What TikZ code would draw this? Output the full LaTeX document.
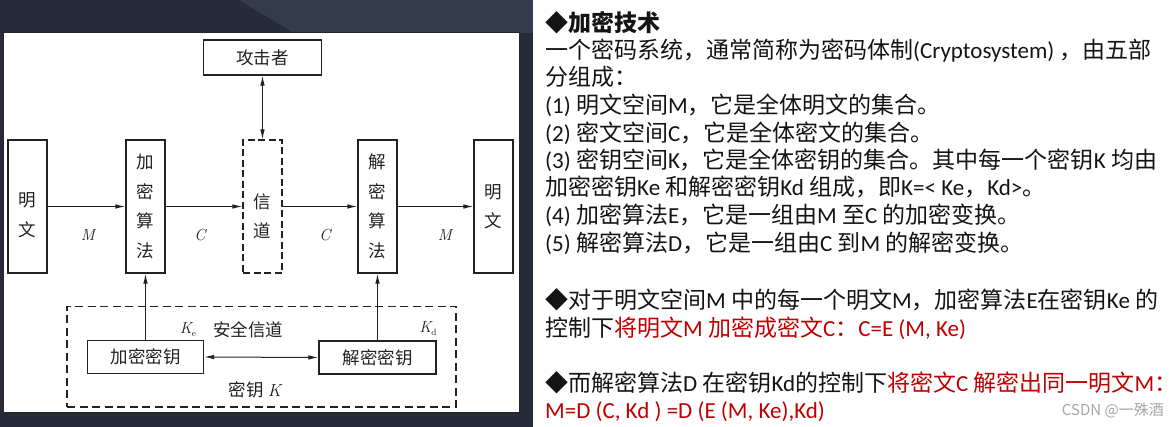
\documentclass[tikz,border=0pt]{standalone}
\usepackage{fontspec}
\setmainfont{Noto Sans CJK SC}
\newfontfamily\latf{Carlito}
\newfontfamily\lmr{Latin Modern Roman}
\newcommand\la[1]{{\latf #1}}
\newcommand\itl[1]{{\lmr\itshape #1}}
\usetikzlibrary{arrows.meta}
\definecolor{panel}{HTML}{262B37}
\definecolor{panelhi}{HTML}{343B4C}
\definecolor{txt}{HTML}{141414}
\definecolor{redtxt}{HTML}{C00000}
\definecolor{wmgray}{HTML}{A6A6A6}
\definecolor{ink}{HTML}{222222}
\begin{document}
\begin{tikzpicture}[x=1pt,y=-1pt,
  dfont/.style={font=\fontsize{17.5}{29.5}\selectfont},
  box/.style={draw=ink,line width=1.2pt,inner sep=0pt,fill=white,dfont,align=center,text=ink},
  vbox/.style={box,minimum width=39pt,minimum height=133pt},
  kbox/.style={box,minimum width=116pt,minimum height=33pt},
  dtext/.style={inner sep=0pt,dfont,align=center,text=ink},
  lbl/.style={inner sep=0pt,font=\fontsize{16}{16}\selectfont,text=ink},
  arr/.style={draw=ink,line width=1pt,-{Latex[length=10pt,width=4.5pt]}},
  darr/.style={draw=ink,line width=1pt,{Latex[length=10pt,width=4.5pt]}-{Latex[length=10pt,width=4.5pt]}},
  rt/.style={anchor=base west,inner sep=0pt,font=\fontsize{23}{27}\selectfont,text=txt},
]
\useasboundingbox (0,0) rectangle (1176,427);
% backgrounds
\fill[panel] (0,0) rectangle (533,427);
\fill[panelhi] (239,0) -- (533,0) -- (533,33) -- (294,33) -- cycle;
\fill[white] (533,0) rectangle (1176,427);
\draw[fill=white,draw=black!85,line width=1pt] (3,33) rectangle (519,413);

% diagram
\node[box,minimum width=118pt,minimum height=35pt] (att) at (262.5,57.5) {攻击者};
\node[vbox] (pl) at (27.5,206.5) {};
\node[dtext] (plt) at (27.5,215) {明\\文};
\node[vbox] (enc) at (145.5,206.5) {加\\密\\算\\法};
\node[vbox,dash pattern=on 7pt off 3.5pt] (chan) at (262.5,206.5) {};
\node[dtext] (chant) at (262.5,216) {信\\道};
\node[vbox] (dec) at (377.5,206.5) {解\\密\\算\\法};
\node[vbox] (pr) at (493.5,206.5) {明\\文};

\draw[arr] (pl.east) -- (enc.west);
\draw[arr] (enc.east) -- (chan.west);
\draw[arr] (chan.east) -- (dec.west);
\draw[arr] (dec.east) -- (pr.west);
\draw[darr] (att.south) -- (chan.north);

\node[lbl] (m1) at (88,235) {\itl{M}};
\node[lbl] (c1) at (200,235) {\itl{C}};
\node[lbl] (c2) at (325,235) {\itl{C}};
\node[lbl] (m2) at (445,235) {\itl{M}};

\node[draw=ink,line width=1.2pt,dash pattern=on 8pt off 4.5pt,minimum width=389pt,minimum height=100.5pt,inner sep=0pt] (kz) at (261.5,356.75) {};
\node[kbox] (ke) at (145.5,357) {加密密钥};
\node[kbox,minimum width=117pt] (kd) at (377.5,357.5) {解密密钥};
\draw[arr] (ke.north) -- (enc.south);
\draw[arr] (kd.north) -- (dec.south);
\draw[darr] (ke.east) -- (kd.west);

\node[lbl] (kel) at (188,330) {\itl{K}\raisebox{-3pt}{\fontsize{9}{9}\selectfont\lmr e}};
\node[dtext] (sec) at (248,330) {安全信道};
\node[lbl] (kdl) at (428,329) {\itl{K}\raisebox{-3pt}{\fontsize{9}{9}\selectfont\lmr d}};
\node[dtext] (kk) at (255,390) {密钥 \itl{K}};

% right text
\node[rt] (h) at (545,32) {\bfseries ◆加密技术};
\node[rt] (l1) at (545,59) {一个密码系统，通常简称为密码体制\la{(Cryptosystem) }，由五部};
\node[rt] (l2) at (545,86) {分组成：};
\node[rt] (l3) at (545,114) {\la{(1) }明文空间\la{M}，它是全体明文的集合。};
\node[rt] (l4) at (545,142) {\la{(2) }密文空间\la{C}，它是全体密文的集合。};
\node[rt] (l5) at (545,169) {\la{(3) }密钥空间\la{K}，它是全体密钥的集合。其中每一个密钥\la{K }均由};
\node[rt] (l6) at (545,196) {加密密钥\la{Ke }和解密密钥\la{Kd }组成，即\la{K=< Ke}，\la{Kd>}。};
\node[rt] (l7) at (545,224) {\la{(4) }加密算法\la{E}，它是一组由\la{M }至\la{C }的加密变换。};
\node[rt] (l8) at (545,252) {\la{(5) }解密算法\la{D}，它是一组由\la{C }到\la{M }的解密变换。};
\node[rt] (l9) at (545,309) {◆对于明文空间\la{M }中的每一个明文\la{M}，加密算法\la{E}在密钥\la{Ke }的};
\node[rt] (l10) at (545,337) {控制下\textcolor{redtxt}{将明文\la{M }加密成密文\la{C}：\la{C=E (M, Ke)}}};
\node[rt] (l11) at (545,392) {◆而解密算法\la{D }在密钥\la{Kd}的控制下\textcolor{redtxt}{将密文\la{C }解密出同一明文\la{M}：}};
\node[rt,text=redtxt] (l12) at (545,419) {\la{M=D (C, Kd ) =D (E (M, Ke),Kd)}};
\node[anchor=base east,inner sep=0pt,font=\fontsize{15}{15}\selectfont,text=wmgray] (wm) at (1164,416) {CSDN @一殊酒};
\end{tikzpicture}
\end{document}
